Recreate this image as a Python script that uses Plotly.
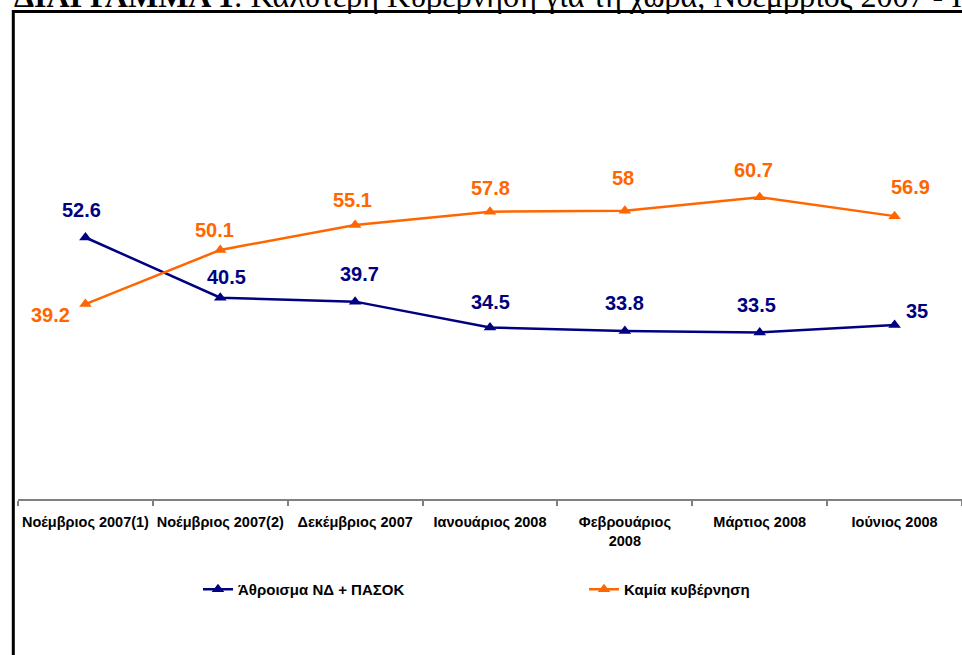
import plotly.graph_objects as go

categories = ["Νοέμβριος 2007(1)", "Νοέμβριος 2007(2)", "Δεκέμβριος 2007",
              "Ιανουάριος 2008", "Φεβρουάριος<br>2008", "Μάρτιος 2008", "Ιούνιος 2008"]
sum_nd_pasok = [52.6, 40.5, 39.7, 34.5, 33.8, 33.5, 35]
no_government = [39.2, 50.1, 55.1, 57.8, 58, 60.7, 56.9]
series_names = ["Άθροισμα ΝΔ + ΠΑΣΟΚ", "Καμία κυβέρνηση"]
title_text = "<b>ΔΙΑΓΡΑΜΜΑ 1</b>: Καλύτερη Κυβέρνηση για τη χώρα, Νοέμβριος 2007 - Ιούνιος 2008"

# label offsets in pixels (dx, dy) relative to the point
blue_off = [(-4, -28), (6, -21), (4, -28), (0, -25), (0, -28), (-3, -27), (22, -14)]
orange_off = [(-35, 11), (-6, -20), (-3, -25), (0, -24), (-2, -33), (-6, -27), (16, -29)]

BLUE = "#000080"
ORANGE = "#FF6600"
FONT = "Liberation Sans, Arial, sans-serif"

L, R, T, B = 18, 0, 151, 156
W = 962 - L - R
H = 655 - T - B
YMAX = 70

def px_x(px):
    return (px - L) / W

def px_y(py):
    return (655 - B - py) / H

fig = go.Figure()
fig.add_trace(go.Scatter(x=categories, y=sum_nd_pasok, name=series_names[0], mode="lines+markers",
                         line=dict(color=BLUE, width=2.5),
                         marker=dict(symbol="triangle-up", size=11, color=BLUE), cliponaxis=False))
fig.add_trace(go.Scatter(x=categories, y=no_government, name=series_names[1], mode="lines+markers",
                         line=dict(color=ORANGE, width=2.5),
                         marker=dict(symbol="triangle-up", size=11, color=ORANGE), cliponaxis=False))

annotations = []
for vals, offs, col in [(sum_nd_pasok, blue_off, BLUE), (no_government, orange_off, ORANGE)]:
    for c, v, (dx, dy) in zip(categories, vals, offs):
        annotations.append(dict(x=c, y=v, text=f"<b>{v:g}</b>", showarrow=False,
                                xshift=dx, yshift=-dy,
                                font=dict(family=FONT, size=20, color=col)))

annotations.append(dict(xref="paper", yref="paper", x=px_x(12), y=px_y(16), xanchor="left",
                        yanchor="bottom", text=title_text, showarrow=False,
                        font=dict(family="Liberation Serif, Times New Roman, serif", size=32, color="black")))

fig.update_layout(
    width=962, height=655,
    margin=dict(l=L, r=R, t=T, b=B, autoexpand=False),
    paper_bgcolor="white", plot_bgcolor="white",
    showlegend=True,
    legend=dict(orientation="h", x=px_x(198), y=px_y(573), xanchor="left", yanchor="top",
                entrywidth=341, entrywidthmode="pixels",
                font=dict(family=FONT, size=15, color="black", weight="bold"),
                itemwidth=30, bgcolor="rgba(0,0,0,0)"),
    xaxis=dict(type="category", range=[-0.5, len(categories) - 0.5],
               showline=True, linecolor="#808080", linewidth=1.5,
               ticks="outside", tickson="boundaries", ticklen=5, tickcolor="#808080", tickwidth=1.5,
               ticklabelstandoff=9, tickangle=0,
               showgrid=False, zeroline=False,
               tickfont=dict(family=FONT, size=14.5, color="black", weight="bold")),
    yaxis=dict(range=[0, YMAX], visible=False, showgrid=False, zeroline=False),
    annotations=annotations,
    shapes=[dict(type="rect", xref="paper", yref="paper",
                 x0=px_x(13.3), x1=px_x(1100), y0=px_y(900), y1=px_y(11.5),
                 line=dict(color="black", width=3), fillcolor="rgba(0,0,0,0)", layer="above")],
)

fig.write_html("out.html", config={"displayModeBar": False},
               post_script="document.body.style.margin='0';document.body.style.overflow='hidden';")
